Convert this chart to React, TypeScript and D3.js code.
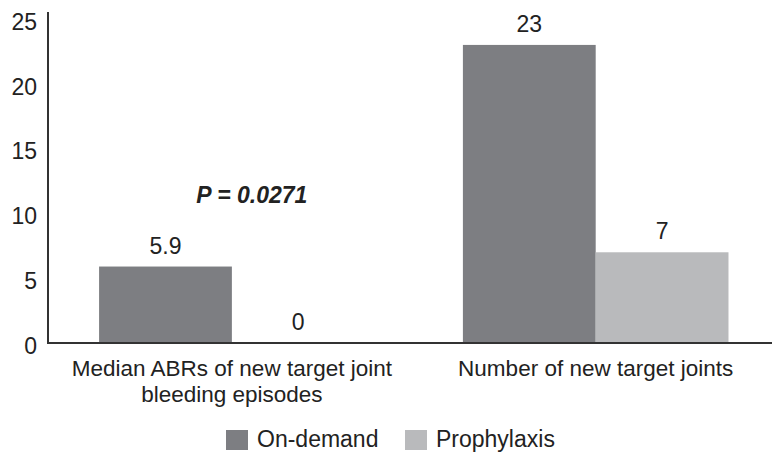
import React, { useEffect, useRef } from 'react';
import * as d3 from 'd3';

// chart data
const categories = ['median', 'joints'];
const categoryLines = [
    ['Median ABRs of new target joint', 'bleeding episodes'],
    ['Number of new target joints'],
];
const seriesNames = ['On-demand', 'Prophylaxis'];
const seriesColors = ['#7d7e82', '#b9babc'];
const onDemand = [5.9, 23];
const prophylaxis = [0, 7];
const valueLabels = [['5.9', '0'], ['23', '7']];
const yTicks = [0, 5, 10, 15, 20, 25];
const pValueText = 'P = 0.0271';

const App: React.FC = () => {
    const ref = useRef<SVGSVGElement>(null);

    useEffect(() => {
        const width = 772;
        const height = 460;
        const font = '"Liberation Sans", Arial, Helvetica, sans-serif';
        const textColor = '#222222';
        const baseY = 343;
        const axisX = 48;

        d3.select(ref.current).selectAll('*').remove();

        const svg = d3
            .select(ref.current)
            .attr('width', width)
            .attr('height', height)
            .style('font-family', font);

        svg.append('rect')
            .attr('width', width)
            .attr('height', height)
            .attr('fill', '#ffffff');

        const yScale = d3.scaleLinear().domain([0, 25]).range([baseY, 19]);

        // outer band per category, inner band per series
        const x0 = d3
            .scaleBand<string>()
            .domain(categories)
            .range([axisX, width])
            .paddingInner(0.27)
            .paddingOuter(0.13)
            .align(0.54);

        const x1 = d3
            .scaleBand<string>()
            .domain(seriesNames)
            .range([0, x0.bandwidth()])
            .padding(0);

        const rows = categories.map((c, i) => ({
            category: c,
            values: [onDemand[i], prophylaxis[i]],
            labels: valueLabels[i],
        }));

        const groups = svg
            .selectAll('g.group')
            .data(rows)
            .enter()
            .append('g')
            .attr('class', 'group')
            .attr('transform', (d) => `translate(${x0(d.category)},0)`);

        groups
            .selectAll('rect')
            .data((d) => d.values.map((v, j) => ({ v, j, label: d.labels[j] })))
            .enter()
            .append('rect')
            .attr('x', (d) => x1(seriesNames[d.j]) ?? 0)
            .attr('y', (d) => yScale(d.v))
            .attr('width', x1.bandwidth())
            .attr('height', (d) => baseY - yScale(d.v))
            .attr('fill', (d) => seriesColors[d.j]);

        groups
            .selectAll('text.value')
            .data((d) => d.values.map((v, j) => ({ v, j, label: d.labels[j] })))
            .enter()
            .append('text')
            .attr('class', 'value')
            .attr('x', (d) => (x1(seriesNames[d.j]) ?? 0) + x1.bandwidth() / 2)
            .attr('y', (d) => yScale(d.v) - 13)
            .attr('text-anchor', 'middle')
            .attr('fill', textColor)
            .style('font-size', '23px')
            .text((d) => d.label);

        // y axis: labels only, line drawn by hand so it runs a bit past 25
        const yAxisGroup = svg
            .append('g')
            .attr('transform', `translate(${axisX},0)`)
            .call(d3.axisLeft(yScale).tickValues(yTicks).tickSize(0).tickPadding(11));

        yAxisGroup.select('.domain').remove();
        yAxisGroup
            .selectAll('text')
            .attr('fill', textColor)
            .attr('dy', '0.45em')
            .style('font-size', '23px')
            .style('font-family', font);

        svg.append('line')
            .attr('x1', axisX)
            .attr('x2', axisX)
            .attr('y1', 12)
            .attr('y2', baseY + 1)
            .attr('stroke', '#333333')
            .attr('stroke-width', 2);

        svg.append('line')
            .attr('x1', axisX - 1)
            .attr('x2', width)
            .attr('y1', baseY)
            .attr('y2', baseY)
            .attr('stroke', '#333333')
            .attr('stroke-width', 2);

        // category labels, two lines for the first group
        categories.forEach((c, i) => {
            const cx = (x0(c) ?? 0) + x0.bandwidth() / 2;
            categoryLines[i].forEach((line, k) => {
                svg.append('text')
                    .attr('x', cx)
                    .attr('y', 376 + k * 26)
                    .attr('text-anchor', 'middle')
                    .attr('fill', textColor)
                    .style('font-size', '22.5px')
                    .text(line);
            });
        });

        // p-value annotation above first group
        svg.append('text')
            .attr('x', (x0(categories[0]) ?? 0) + x0.bandwidth() * 0.575)
            .attr('y', 203)
            .attr('text-anchor', 'middle')
            .attr('fill', textColor)
            .style('font-size', '23px')
            .style('font-weight', 'bold')
            .style('font-style', 'italic')
            .text(pValueText);

        // legend
        const legend = svg.append('g').attr('transform', 'translate(226,430)');
        const legendX = [0, 179];
        seriesNames.forEach((name, i) => {
            legend
                .append('rect')
                .attr('x', legendX[i])
                .attr('y', 0)
                .attr('width', 22)
                .attr('height', 20)
                .attr('fill', seriesColors[i]);
            legend
                .append('text')
                .attr('x', legendX[i] + 31)
                .attr('y', 17)
                .attr('fill', textColor)
                .style('font-size', '23px')
                .text(name);
        });
    }, []);

    return <svg ref={ref} style={{ position: 'absolute', left: 0, top: 0 }}></svg>;
};

export default App;
